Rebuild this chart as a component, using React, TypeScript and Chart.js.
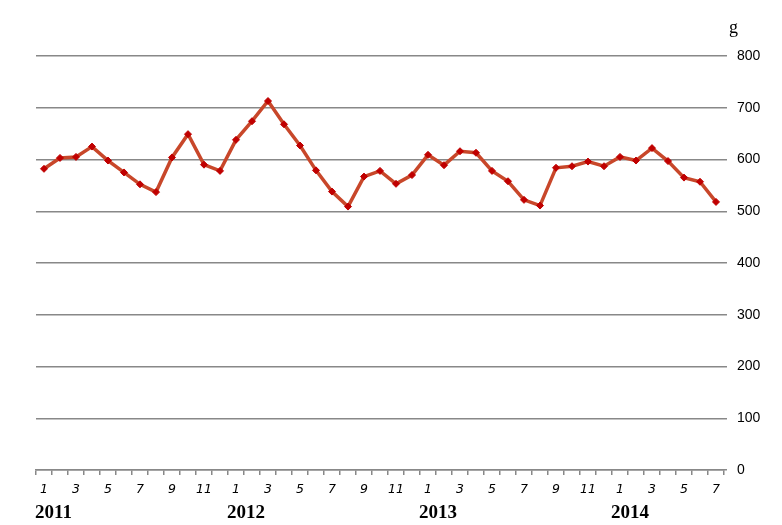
import React, { useEffect, useRef } from "react";
import { Chart, registerables } from "chart.js";

Chart.register(...registerables);

const years = ["2011", "2012", "2013", "2014"];
const monthsPerYear = [12, 12, 12, 7];
const values = [
  582, 603, 605, 625, 598, 575, 552, 537, 604, 649, 590, 578,
  638, 674, 713, 668, 627, 579, 538, 509, 567, 578, 553, 570,
  609, 589, 616, 613, 578, 558, 522, 511, 584, 587, 596, 587,
  605, 598, 622, 597, 565, 557, 518,
];
const yTicksMax = 800;
const yStep = 100;
const unitLabel = "g";

const labels: string[] = [];
const yearStartIndex: number[] = [];
years.forEach((y, yi) => {
  yearStartIndex.push(labels.length);
  for (let m = 1; m <= monthsPerYear[yi]; m++) labels.push(String(m));
});

export default function App() {
  const ref = useRef<HTMLCanvasElement>(null);
  useEffect(() => {
    if (!ref.current) return;
    const extras = {
      id: "extras",
      afterDraw(chart: any) {
        const ctx = chart.ctx;
        const xs = chart.scales.x;
        ctx.save();
        ctx.fillStyle = "#000";
        ctx.font = "bold 19px 'Liberation Serif', serif";
        ctx.textBaseline = "alphabetic";
        ctx.textAlign = "left";
        years.forEach((y, i) => {
          const px = xs.getPixelForValue(yearStartIndex[i]);
          ctx.fillText(y, px - 9, 518);
        });
        ctx.font = "18px 'Liberation Serif', serif";
        ctx.fillText(unitLabel, 729, 33);
        ctx.restore();
      },
    };
    const chart = new Chart(ref.current, {
      type: "line",
      data: {
        labels,
        datasets: [
          {
            data: values,
            borderColor: "#C8472A",
            borderWidth: 3.5,
            pointStyle: "rectRot",
            pointRadius: 3.5,
            pointBackgroundColor: "#C00000",
            pointBorderColor: "#C00000",
            pointBorderWidth: 1,
            tension: 0,
          },
        ],
      },
      options: {
        animation: false,
        responsive: false,
        devicePixelRatio: 1,
        layout: { padding: { left: 36, top: 56, right: 0, bottom: 0 } },
        plugins: { legend: { display: false }, tooltip: { enabled: false } },
        scales: {
          x: {
            type: "category",
            offset: true,
            afterFit(scale: any) {
              scale.height = 55;
            },
            grid: {
              offset: true,
              drawOnChartArea: false,
              drawTicks: true,
              tickLength: 5,
              color: "#888",
              lineWidth: 1.5,
            },
            border: { display: true, color: "#888", width: 1.5 },
            ticks: {
              autoSkip: false,
              maxRotation: 0,
              padding: 7,
              color: "#000",
              font: { family: "'DejaVu Sans', sans-serif", size: 12.5, style: "italic" },
              callback: (v: any, i: number) => (Number(labels[i]) % 2 === 1 ? labels[i] : ""),
            },
          },
          y: {
            position: "right",
            min: 0,
            max: yTicksMax,
            afterFit(scale: any) {
              scale.width = 58;
            },
            grid: {
              color: "#888",
              lineWidth: 1.5,
              drawTicks: true,
              tickLength: 3,
            },
            border: { display: false },
            ticks: {
              stepSize: yStep,
              padding: 10,
              color: "#000",
              font: { family: "'Liberation Sans', sans-serif", size: 14 },
            },
          },
        },
      },
      plugins: [extras],
    });
    return () => chart.destroy();
  }, []);
  return (
    <div style={{ position: "fixed", left: 0, top: 0, width: 782, height: 525, background: "#fff" }}>
      <canvas ref={ref} width={782} height={525} style={{ width: 782, height: 525 }} />
    </div>
  );
}
